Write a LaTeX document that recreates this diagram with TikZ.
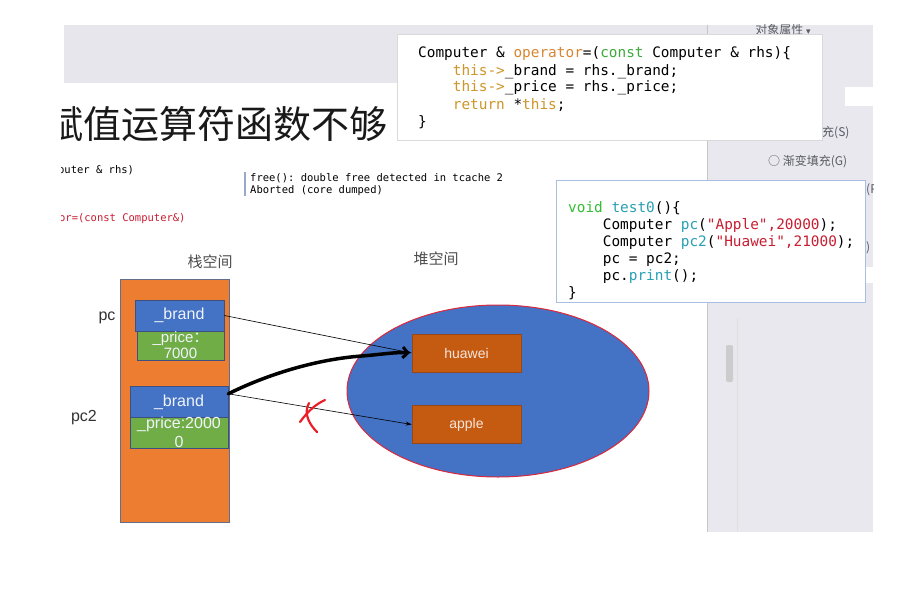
\documentclass[tikz,border=0pt]{standalone}
\usepackage{fontspec}
\setmainfont{Liberation Sans}
\setmonofont{DejaVu Sans Mono}
\newfontfamily\cjk{Noto Sans CJK SC}
\newfontfamily\dejavu{DejaVu Sans}
\usetikzlibrary{arrows.meta,positioning,shapes.geometric}

\definecolor{bandgray}{RGB}{230,230,236}
\definecolor{panelgray}{RGB}{232,232,238}
\definecolor{uigray}{RGB}{90,90,100}
\definecolor{titleblack}{RGB}{25,25,25}
\definecolor{quotebar}{RGB}{150,170,200}
\definecolor{boxblue}{RGB}{170,190,225}
\definecolor{stackorange}{RGB}{237,125,49}
\definecolor{stackedge}{RGB}{100,110,140}
\definecolor{brandblue}{RGB}{68,114,196}
\definecolor{fieldedge}{RGB}{60,80,130}
\definecolor{fieldtext}{RGB}{240,244,250}
\definecolor{pricegreen}{RGB}{112,173,71}
\definecolor{heapbrown}{RGB}{197,90,17}
\definecolor{heapedge}{RGB}{150,70,25}
\definecolor{heaptext}{RGB}{245,230,220}
\definecolor{heaprim}{RGB}{220,40,60}
\definecolor{codeorange}{RGB}{215,135,50}
\definecolor{codegold}{RGB}{205,150,40}
\definecolor{codegreen}{RGB}{60,170,60}
\definecolor{codevoid}{RGB}{50,190,50}
\definecolor{codeteal}{RGB}{40,160,180}
\definecolor{codered}{RGB}{200,30,50}
\definecolor{markred}{RGB}{235,30,40}

\tikzset{
  code/.style={font=\fontsize{14.4}{17}\selectfont\ttfamily, inner sep=0pt},
  smallcode/.style={font=\fontsize{10.5}{13}\selectfont\ttfamily, inner sep=0pt},
  codebox/.style={draw=gray!30, fill=white, inner sep=0pt},
  uitext/.style={font=\fontsize{12}{14}\selectfont\cjk, text=uigray, inner sep=0pt},
  field/.style={draw=fieldedge, line width=0.6pt, inner sep=0pt, text=fieldtext},
  heapbox/.style={draw=heapedge, fill=heapbrown, line width=0.6pt, minimum width=109pt, minimum height=38pt, inner sep=0pt, font=\fontsize{14}{16}\selectfont, text=heaptext},
  ptr/.style={-{Stealth[length=6pt,width=4pt]}, line width=0.6pt},
  handline/.style={line width=3.5pt, line cap=round, line join=round},
  redmark/.style={markred, line width=2.2pt, line cap=round}
}

\begin{document}
\begin{tikzpicture}[x=1pt,y=-1pt]
\useasboundingbox (0,0) rectangle (913,594);
\fill[white] (0,0) rectangle (913,594);

% screen background
\fill[bandgray] (64,25) rectangle (707,83);
\fill[panelgray] (707,25) rectangle (873,532);
\draw[gray!45] (707,25) -- (707,532);
\draw[gray!25] (737,318) -- (737,532);
\fill[white] (845,87) rectangle (873,106);
\fill[white] (863,267) rectangle (873,283);
\fill[gray!40, rounded corners=2pt] (726,345) rectangle (733,382);

% panel texts
\begin{scope}
\clip (707,25) rectangle (873,532);
\node[uitext] (panelhead) at (783,30) {对象属性 {\dejavu\fontsize{9}{10}\selectfont ▾}};
\node[uitext, anchor=west] (solidfill) at (822,133) {充(S)};
\node[uitext, anchor=west] (gradfill) at (768,162) {○ 渐变填充(G)};
\node[uitext, anchor=west] (picfill) at (866,190) {(P};
\node[uitext, anchor=west] (patfill) at (866,248) {)};
\end{scope}

% slide title and notes
\begin{scope}
\clip (61,85) rectangle (397,240);
\node[anchor=base west, inner sep=0pt, font=\fontsize{38}{40}\selectfont\cjk, text=titleblack] (title) at (45,138) {赋值运算符函数不够};
\node[smallcode, anchor=base west] (sig) at (39,173.5) {Computer \& rhs)};
\node[smallcode, anchor=base west, text=codered] (decl) at (21,221.5) {operator=(const Computer\&)};
\end{scope}
\draw[line width=1.2pt, quotebar] (245,172) -- (245,196);
\node[smallcode, anchor=base west] (err1) at (250,181.5) {free(): double free detected in tcache 2};
\node[smallcode, anchor=base west] (err2) at (250,193.5) {Aborted (core dumped)};

% operator= code
\node[codebox, anchor=north west, minimum width=425pt, minimum height=106pt] (opbox) at (397,34) {};
\foreach \ln [count=\i] in {
  {Computer \& \textcolor{codeorange}{operator}=(\textcolor{codegreen}{const} Computer \& rhs)\{},
  {\phantom{xxxx}\textcolor{codegold}{this->}\_brand = rhs.\_brand;},
  {\phantom{xxxx}\textcolor{codegold}{this->}\_price = rhs.\_price;},
  {\phantom{xxxx}\textcolor{codegold}{return} *\textcolor{codegold}{this};},
  {\}}}
  \node[code, anchor=base west] (op\i) at (418,41+17*\i) {\ln};

% test0 code
\node[codebox, draw=boxblue, anchor=north west, minimum width=309pt, minimum height=122pt] (testbox) at (556,180) {};
\foreach \ln [count=\i] in {
  {\textcolor{codevoid}{void} \textcolor{codeteal}{test0}()\{},
  {\phantom{xxxx}Computer \textcolor{codeteal}{pc}(\textcolor{codered}{"Apple",20000});},
  {\phantom{xxxx}Computer \textcolor{codeteal}{pc2}(\textcolor{codered}{"Huawei",21000});},
  {\phantom{xxxx}pc = pc2;},
  {\phantom{xxxx}pc.\textcolor{codeteal}{print}();},
  {\}}}
  \node[code, anchor=base west] (tc\i) at (568,195+17*\i) {\ln};

% stack
\node[font=\fontsize{15}{17}\selectfont\cjk, text=black!70] (stacklbl) at (210,262) {栈空间};
\node[draw=stackedge, fill=stackorange, line width=0.6pt, minimum width=109pt, minimum height=243pt, inner sep=0pt] (stack) at (174.5,400.5) {};
\node[field, fill=brandblue, minimum width=89pt, minimum height=31pt, font=\fontsize{16}{18}\selectfont] (pcbrand) at (179.5,315.5) {\_brand};
\node[field, fill=pricegreen, minimum width=87pt, minimum height=29pt, align=center, font=\fontsize{15}{16}\selectfont] (pcprice) at (180.5,345.5) {\_price{\cjk：}\\7000};
\node[field, fill=brandblue, minimum width=98pt, minimum height=32pt, font=\fontsize{16}{18}\selectfont] (pctwobrand) at (179,402.5) {\_brand};
\node[field, fill=pricegreen, minimum width=98pt, minimum height=29pt, align=center, font=\fontsize{16}{19}\selectfont] (pctwoprice) at (179,432.5) {\_price:2000\\0};
\node[font=\fontsize{16}{18}\selectfont, text=black!80] (pclbl) at (107,318) {pc};
\node[font=\fontsize{16}{18}\selectfont, text=black!80] (pctwolbl) at (84,418) {pc2};

% heap
\node[font=\fontsize{15}{17}\selectfont\cjk, text=black!70] (heaplbl) at (436,259) {堆空间};
\node[ellipse, draw=heaprim, fill=brandblue, line width=1pt, minimum width=302pt, minimum height=172pt, inner sep=0pt] (heap) at (498,391) {};
\node[heapbox] (huawei) at (466.5,353) {huawei};
\node[heapbox] (apple) at (466.5,424.5) {apple};

% pointers
\draw[ptr] (pcbrand.east) -- (huawei.west);
\draw[ptr] (pctwobrand.10) -- (apple.west);
\draw[handline, -{Straight Barb[length=5pt,width=11pt,line width=3pt]}] (pctwobrand.10) .. controls (268,374) and (318,359) .. (362,356) .. controls (385,354) and (396,352) .. ([xshift=-2pt]huawei.west);

% cross
\draw[redmark] (300,422) .. controls (308,411) and (316,404) .. (325,400);
\draw[redmark] (309,403) .. controls (303,414) and (310,425) .. (317,432);
\end{tikzpicture}
\end{document}
